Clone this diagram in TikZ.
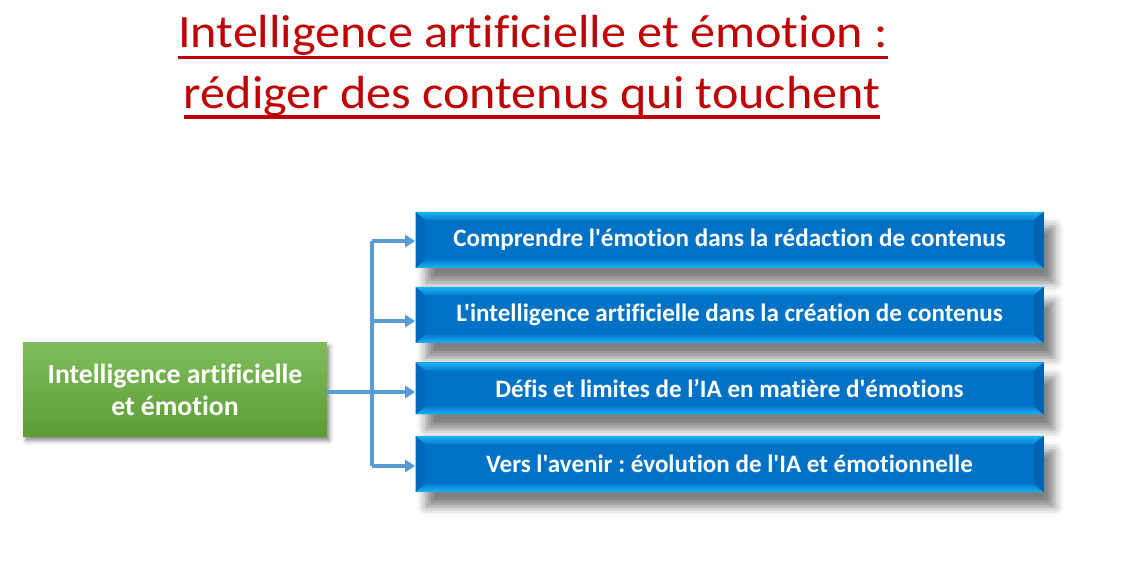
\documentclass[tikz,border=0pt]{standalone}
\usepackage{fontspec}
\setmainfont{Carlito}[Ligatures={TeXOff,NoCommon}]
\newfontfamily\titlefont{Carlito}[Ligatures={TeXOff,NoCommon},FakeStretch=1.08]
\usetikzlibrary{shadows.blur,arrows.meta}
\frenchspacing
\definecolor{titlered}{HTML}{C00000}
\definecolor{bFill}{HTML}{0072C6}
\definecolor{bEdge}{HTML}{1AB2F2}
\definecolor{bInner}{HTML}{087FD0}
\definecolor{bLeft}{HTML}{0068BC}
\definecolor{bRight}{HTML}{0062B2}
\definecolor{gT}{HTML}{80BC5C}
\definecolor{gB}{HTML}{5C9C34}
\definecolor{conncol}{HTML}{5B9BD5}
\tikzset{
  titletext/.style={inner sep=0pt, anchor=base, text=titlered, font=\titlefont\fontsize{34.8}{42}\selectfont},
  uline/.style={draw=titlered, line width=2.4pt},
  bluebox/.style={minimum width=471pt, minimum height=42pt, inner sep=0pt,
    fill=bFill, text=white,
    font=\bfseries\fontsize{18.8}{22}\selectfont,
    blur shadow={shadow xshift=8pt, shadow yshift=-11pt, shadow blur radius=7pt, shadow opacity=50},
    path picture={
      \coordinate (nw) at (path picture bounding box.north west);
      \coordinate (ne) at (path picture bounding box.north east);
      \coordinate (sw) at (path picture bounding box.south west);
      \coordinate (se) at (path picture bounding box.south east);
      \shade[top color=bEdge, bottom color=bInner] (nw) -- (ne) -- ([xshift=-7pt,yshift=-6pt]ne) -- ([xshift=7pt,yshift=-6pt]nw) -- cycle;
      \shade[top color=bInner, bottom color=bEdge] (sw) -- (se) -- ([xshift=-7pt,yshift=6pt]se) -- ([xshift=7pt,yshift=6pt]sw) -- cycle;
      \fill[bLeft] (nw) -- ([xshift=7pt,yshift=-6pt]nw) -- ([xshift=7pt,yshift=6pt]sw) -- (sw) -- cycle;
      \fill[bRight] (ne) -- ([xshift=-7pt,yshift=-6pt]ne) -- ([xshift=-7pt,yshift=6pt]se) -- (se) -- cycle;
    }},
  greenbox/.style={minimum width=228pt, minimum height=71pt, inner sep=0pt, align=center,
    top color=gT, bottom color=gB, text=white,
    font=\bfseries\fontsize{20.8}{24}\selectfont,
    blur shadow={shadow xshift=2pt, shadow yshift=-3pt, shadow blur radius=3pt, shadow opacity=45}},
  conn/.style={draw=conncol, line width=3pt},
  connarrow/.style={conn, -{Triangle[length=7.5pt,width=9pt]}}
}
\begin{document}
\begin{tikzpicture}[x=0.75pt,y=-0.75pt]
\useasboundingbox (0,0) rectangle (1122,570);
% title
\node[titletext] (t1) at (533,48) {Intelligence artificielle et émotion :};
\node[titletext] (t2) at (532,109) {rédiger des contenus qui touchent};
\draw[uline] ([yshift=-7pt]t1.base west) -- ([yshift=-7pt]t1.base east);
\draw[uline] ([yshift=-6pt]t2.base west) -- ([yshift=-6pt]t2.base east);
% boxes
\node[bluebox] (b1) at (729.5,240) {Comprendre l'émotion dans la rédaction de contenus};
\node[bluebox] (b2) at (729.5,315) {L'intelligence artificielle dans la création de contenus};
\node[bluebox, minimum height=39pt] (b3) at (729.5,388.5) {Défis et limites de l’IA en matière d'émotions};
\node[bluebox] (b4) at (729.5,464) {Vers l'avenir : évolution de l'IA et émotionnelle};
\node[greenbox] (g) at (175,389.5) {Intelligence artificielle\\et émotion};
% connectors
\coordinate (j) at (372,392);
\coordinate (a1) at (372,241);
\coordinate (a2) at (372,321);
\coordinate (a4) at (372,466);
\draw[conn] (g.east |- j) -- (j);
\draw[conn] (a1) -- (a4);
\draw[connarrow] (a1) -- (b1.west |- a1);
\draw[connarrow] (a2) -- (b2.west |- a2);
\draw[connarrow] (j) -- (b3.west |- j);
\draw[connarrow] (a4) -- (b4.west |- a4);
\end{tikzpicture}
\end{document}
